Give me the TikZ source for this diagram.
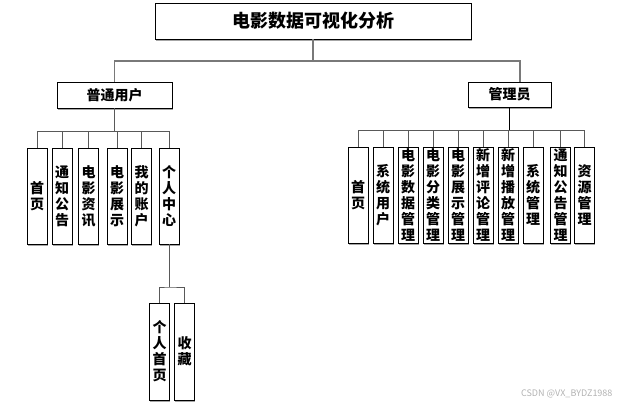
\documentclass[tikz,border=0pt]{standalone}
\usepackage{fontspec}
\setmainfont{Noto Sans CJK SC}
\usetikzlibrary{shadows}

\tikzset{
  box/.style = {draw, fill=white, inner sep=0pt, line width=0.8pt,
    drop shadow={shadow xshift=0.8pt, shadow yshift=-1.6pt, fill=gray!70, opacity=1}},
  leaf/.style = {box, minimum width=20pt, minimum height=96pt, align=center,
    font=\bfseries\fontsize{14}{16}\selectfont},
  bus/.style = {draw=gray!95!black, line width=1.6pt},
  twig/.style = {draw=black!65, line width=0.9pt}
}

\begin{document}
\begin{tikzpicture}[x=1pt, y=-1pt]
                \useasboundingbox (0,0) rectangle (621,407);
                % top level
                \node[box, minimum width=316pt, minimum height=36pt, font=\bfseries\fontsize{18}{20}\selectfont] (root) at (313,21) {电影数据可视化分析};
                \node[box, minimum width=115pt, minimum height=26pt, font=\bfseries\fontsize{14}{16}\selectfont] (user) at (114.5,95) {普通用户};
                \node[box, minimum width=83pt, minimum height=25pt, font=\bfseries\fontsize{14}{16}\selectfont] (admin) at (509.5,94.5) {管理员};
                \coordinate (rbus) at (313,61);
                \coordinate (abus) at (520,61);
                \draw[bus] (root) -- (rbus);
                \draw[bus] (user.north) |- (abus) -- (abus |- admin.north);
                % 普通用户
                \node[leaf] (u1) at (37,196) {首\\页};
                \node[leaf] (u2) at (62,196) {通\\知\\公\\告};
                \node[leaf] (u3) at (88.5,196) {电\\影\\资\\讯};
                \node[leaf] (u4) at (117,196) {电\\影\\展\\示};
                \node[leaf] (u5) at (141.5,196) {我\\的\\账\\户};
                \node[leaf] (u6) at (169,196) {个\\人\\中\\心};
                \coordinate (ubus) at (114.5,131);
                \draw[twig] (user) -- (ubus);
                \draw[twig] (u1.north |- ubus) -- (u6.north |- ubus);
                \foreach \i in {1,...,6}
                    \draw[twig] (u\i.north |- ubus) -- (u\i.north);
                % 个人中心
                \node[leaf, minimum height=97pt] (p1) at (159.5,351.5) {个\\人\\首\\页};
                \node[leaf, minimum height=97pt] (p2) at (184.5,351.5) {收\\藏};
                \coordinate (pbus) at (169,287);
                \draw[twig] (u6) -- (pbus);
                \draw[twig] (p1.north) |- (pbus) -| (p2.north);
                % 管理员
                \node[leaf] (a1) at (358,195) {首\\页};
                \node[leaf] (a2) at (383,195) {系\\统\\用\\户};
                \node[leaf] (a3) at (408,195) {电\\影\\数\\据\\管\\理};
                \node[leaf] (a4) at (433,195) {电\\影\\分\\类\\管\\理};
                \node[leaf] (a5) at (458,195) {电\\影\\展\\示\\管\\理};
                \node[leaf] (a6) at (483,195) {新\\增\\评\\论\\管\\理};
                \node[leaf] (a7) at (508,195) {新\\增\\播\\放\\管\\理};
                \node[leaf] (a8) at (533,195) {系\\统\\管\\理};
                \node[leaf] (a9) at (560.5,195) {通\\知\\公\\告\\管\\理};
                \node[leaf] (a10) at (584.5,195) {资\\源\\管\\理};
                \coordinate (abus2) at (509.5,130);
                \draw[twig, draw=black] (admin) -- (abus2);
                \draw[twig] (a1.north |- abus2) -- (a10.north |- abus2);
                \foreach \i in {1,...,10}
                    \draw[twig] (a\i.north |- abus2) -- (a\i.north);
                % watermark
                \node[text=gray!60, font=\fontsize{9}{10}\selectfont, anchor=east] (mark) at (616,394) {CSDN @VX\_BYDZ1988};
            \end{tikzpicture}
\end{document}
